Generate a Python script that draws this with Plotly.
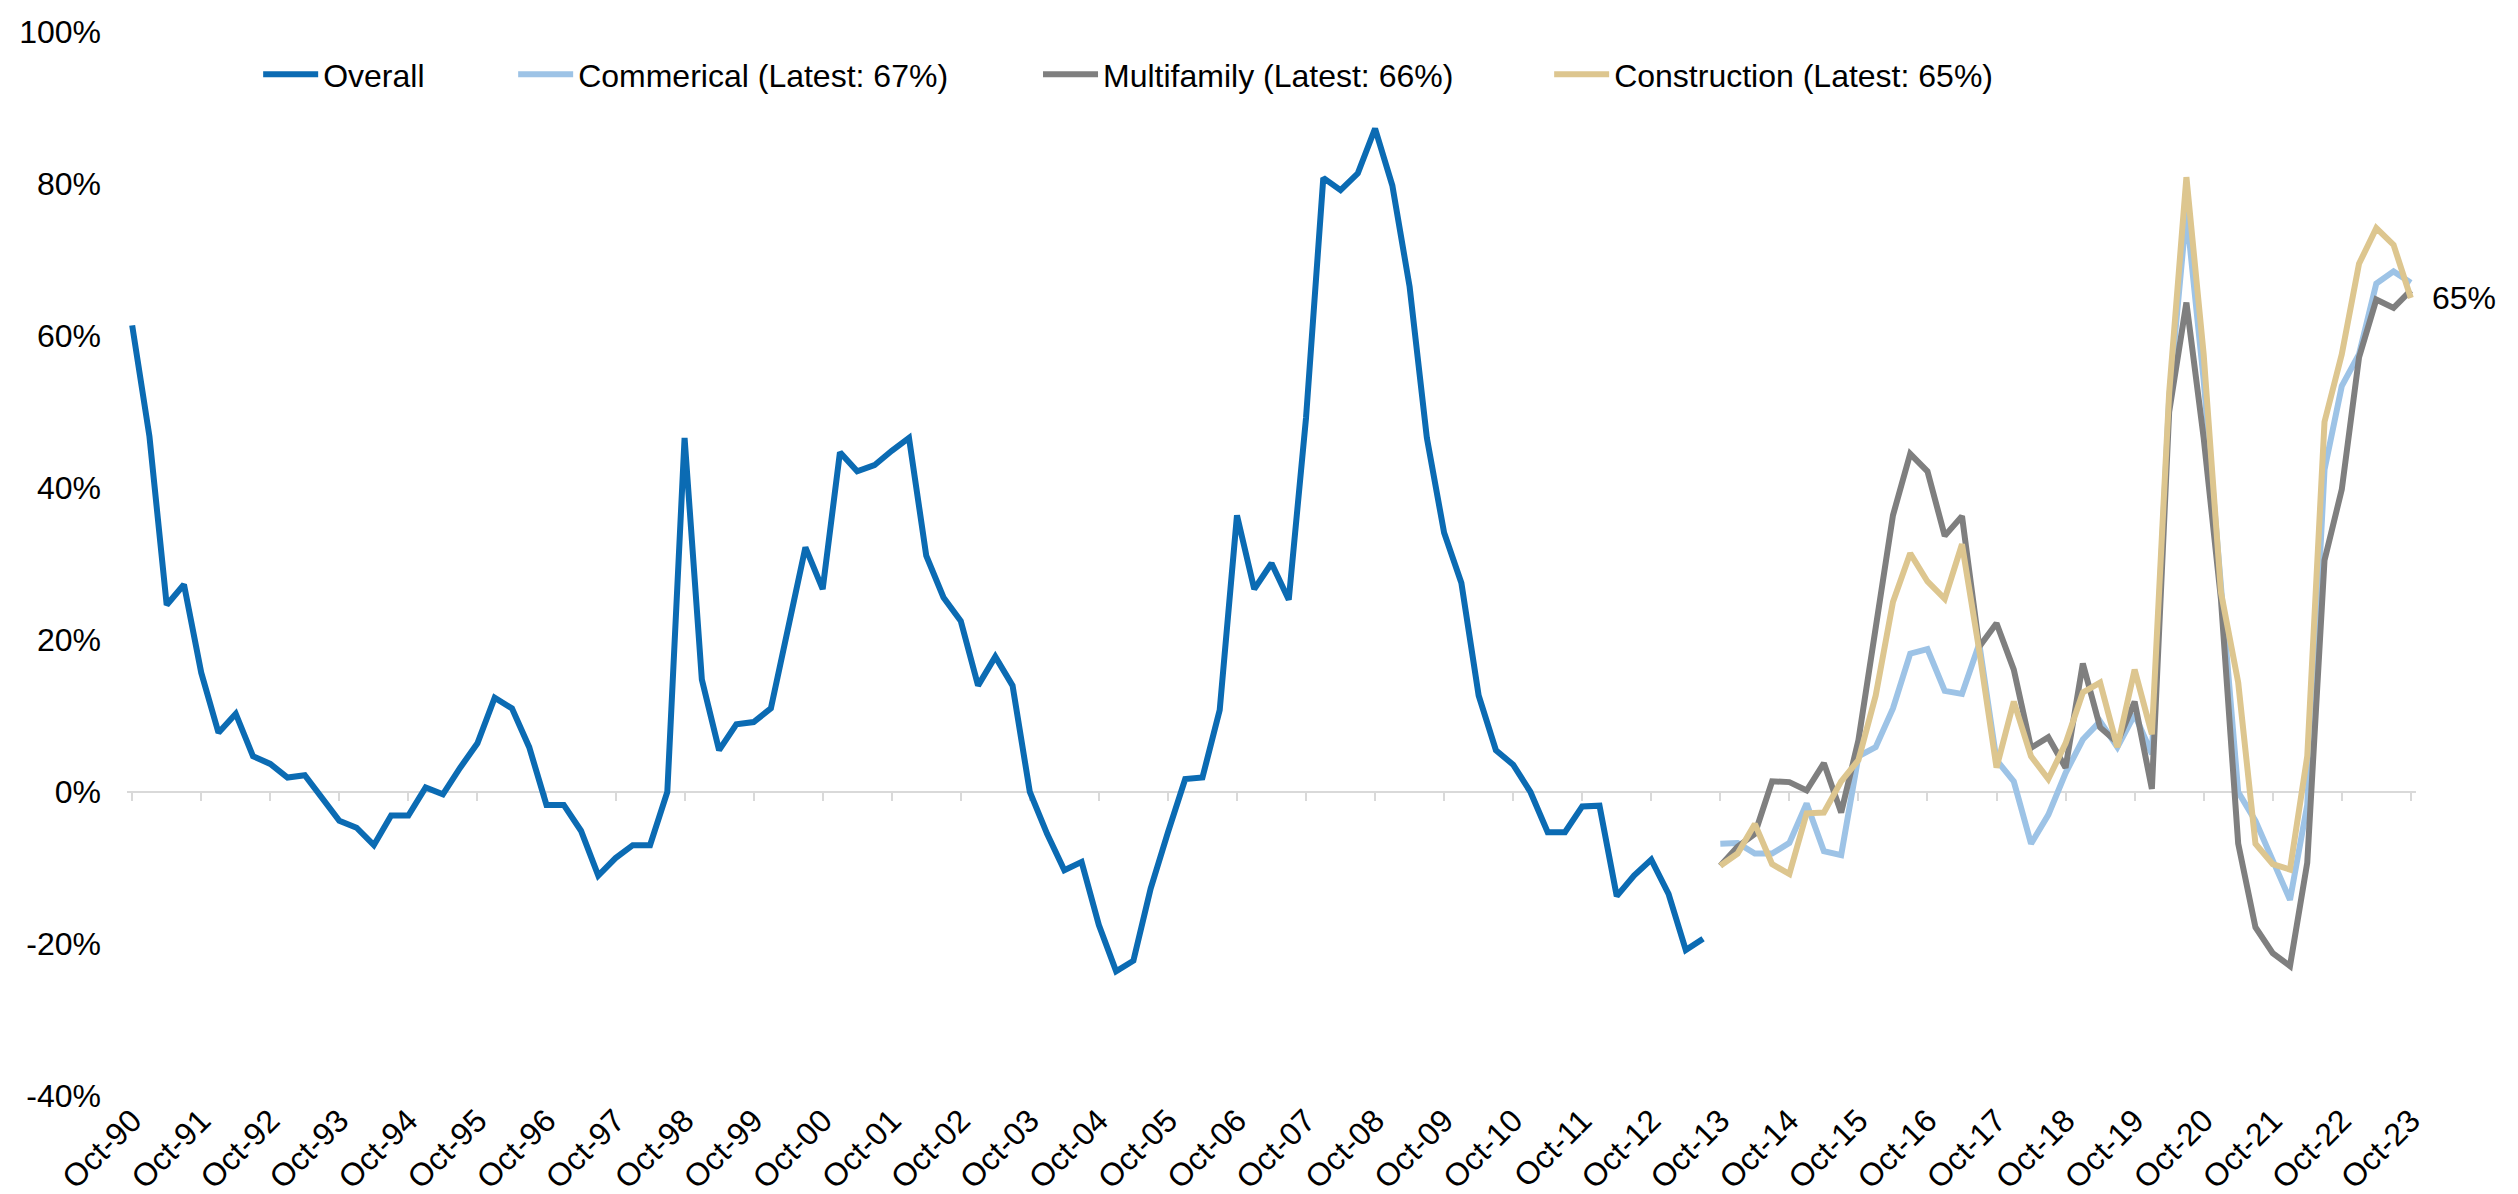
import pandas as pd
import plotly.graph_objects as go

# quarterly labels Oct-90 ... Oct-23
quarters = list(pd.date_range("1990-10-01", "2023-10-01", freq="QS-OCT").strftime("%b-%y"))
oct_ticks = quarters[::4]

y_ticks = [-40, -20, 0, 20, 40, 60, 80, 100]
y_tick_text = ["-40%", "-20%", "0%", "20%", "40%", "60%", "80%", "100%"]

# Overall: Oct-90 to Jul-13
overall = [61.4,
           46.8, 24.6, 27.3, 15.7,
           7.8, 10.3, 4.7, 3.7,
           1.9, 2.2, -0.8, -3.8,
           -4.7, -7.0, -3.1, -3.1,
           0.6, -0.3, 3.2, 6.4,
           12.4, 11.0, 5.9, -1.7,
           -1.7, -5.1, -11.0, -8.7,
           -7.0, -7.0, 0.0, 46.6,
           14.8, 5.5, 8.9, 9.2,
           11.0, 21.2, 32.2, 26.7,
           44.7, 42.2, 43.0, 44.9,
           46.6, 31.1, 25.6, 22.5,
           14.0, 17.8, 14.0, 0.0,
           -5.5, -10.3, -9.2, -17.5,
           -23.6, -22.2, -12.7, -5.3,
           1.7, 1.9, 10.8, 36.4,
           26.7, 30.1, 25.3, 49.2,
           80.8, 79.2, 81.4, 87.3,
           79.8, 66.5, 46.6, 34.1,
           27.5, 12.7, 5.5, 3.6,
           0.0, -5.3, -5.3, -1.9,
           -1.8, -13.7, -11.0, -8.9,
           -13.4, -20.8, -19.3]

# segments: Oct-13 to Oct-23
commercial = [-6.8,
              -6.7, -8.1, -8.1, -6.7,
              -1.5, -7.8, -8.3, 4.7,
              5.9, 11.0, 18.2, 18.8,
              13.3, 12.9, 19.5, 4.2,
              1.4, -6.8, -3.0, 2.5,
              6.9, 9.3, 5.9, 10.2,
              5.0, 51.7, 76.3, 54.2,
              27.1, 0.0, -3.8, -8.9,
              -14.2, -1.7, 42.4, 53.4,
              57.6, 66.9, 68.5, 67.0]

multifamily = [-9.7,
               -7.2, -5.5, 1.4, 1.3,
               0.2, 3.8, -2.7, 6.8,
               22.0, 36.4, 44.5, 42.2,
               33.7, 36.3, 19.1, 22.2,
               16.1, 5.8, 7.2, 3.2,
               16.9, 8.5, 6.5, 11.9,
               0.4, 50.0, 64.4, 46.6,
               25.4, -6.8, -17.8, -21.2,
               -22.9, -9.3, 30.5, 39.8,
               57.2, 64.8, 63.7, 66.0]

construction = [-9.7,
                -8.1, -4.2, -9.5, -10.8,
                -2.8, -2.7, 1.4, 4.2,
                12.7, 25.0, 31.4, 27.7,
                25.4, 32.6, 18.6, 3.2,
                11.9, 4.7, 1.7, 6.4,
                13.1, 14.4, 5.9, 16.1,
                7.6, 52.5, 80.9, 57.6,
                26.3, 14.4, -6.8, -9.5,
                -10.2, 4.7, 48.7, 57.6,
                69.5, 74.2, 72.0, 65.0]

seg_x = quarters[len(quarters) - len(commercial):]

series = [
    ("Overall", quarters[:len(overall)], overall, "#0B6BB3", "legend"),
    ("Commerical (Latest: 67%)", seg_x, commercial, "#9DC3E6", "legend2"),
    ("Multifamily (Latest: 66%)", seg_x, multifamily, "#7F7F7F", "legend3"),
    ("Construction (Latest: 65%)", seg_x, construction, "#DDC68F", "legend4"),
]

fig = go.Figure()
for name, xs, ys, color, leg in series:
    fig.add_trace(go.Scatter(
        x=xs, y=ys, name=name, mode="lines",
        line=dict(color=color, width=6),
        legend=leg, showlegend=True,
    ))

fig.add_annotation(
    x=quarters[-1], y=construction[-1], text="65%",
    showarrow=False, xanchor="left", xshift=19, yshift=0,
    font=dict(size=32, color="black"),
)

legend_style = dict(orientation="h", yanchor="middle", y=0.96, itemwidth=55,
                    bgcolor="rgba(0,0,0,0)", font=dict(size=32, color="black"))

fig.update_layout(
    width=2518, height=1194,
    showlegend=True,
    margin=dict(l=119, r=110, t=24, b=106, autoexpand=False),
    paper_bgcolor="white", plot_bgcolor="white",
    font=dict(family="Liberation Sans, Arial, sans-serif", size=32, color="black"),
    legend=dict(x=0.0573, **legend_style),
    legend2=dict(x=0.1687, **legend_style),
    legend3=dict(x=0.3980, **legend_style),
    legend4=dict(x=0.6213, **legend_style),
    xaxis=dict(
        type="category", categoryorder="array", categoryarray=quarters,
        range=[-0.3, len(quarters) - 1 + 0.3],
        tickmode="array", tickvals=oct_ticks, ticktext=oct_ticks, tickangle=-45,
        anchor="free", position=40 / 140,
        showline=True, linecolor="#D9D9D9", linewidth=2,
        ticks="outside", ticklen=8, tickwidth=2, tickcolor="#D9D9D9",
        ticklabelstandoff=288, showgrid=False, zeroline=False,
        layer="below traces", automargin=False,
    ),
    yaxis=dict(
        range=[-40, 100], tickmode="array", tickvals=y_ticks, ticktext=y_tick_text,
        showgrid=False, zeroline=False, showline=False, ticks="",
        ticklabelstandoff=25, automargin=False,
    ),
)

fig.write_html("out.html")
